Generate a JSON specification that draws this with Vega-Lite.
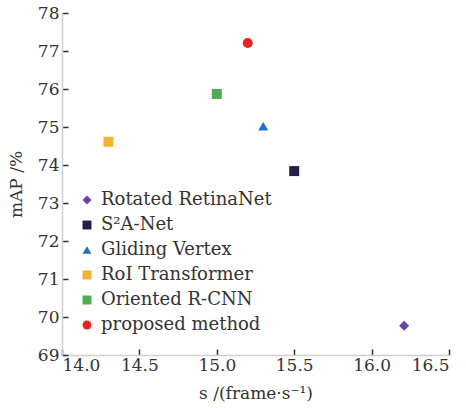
{
  "$schema": "https://vega.github.io/schema/vega-lite/v6.json",
  "autosize": "none",
  "width": 387,
  "height": 342,
  "padding": {"left": 62, "top": 13, "right": 17, "bottom": 53},
  "background": "white",
  "config": {
    "view": {"stroke": null},
    "font": "DejaVu Serif"
  },
  "data": {
    "values": [
      {"method": "Rotated RetinaNet", "speed": 16.21, "map": 69.77},
      {"method": "S²A-Net", "speed": 15.50, "map": 73.84},
      {"method": "Gliding Vertex", "speed": 15.30, "map": 75.02},
      {"method": "RoI Transformer", "speed": 14.30, "map": 74.61},
      {"method": "Oriented R-CNN", "speed": 15.00, "map": 75.87},
      {"method": "proposed method", "speed": 15.20, "map": 77.21}
    ]
  },
  "mark": {"type": "point", "filled": true, "opacity": 1, "size": 100},
  "encoding": {
    "x": {
      "field": "speed", "type": "quantitative",
      "scale": {"domain": [14, 16.5], "nice": false, "zero": false},
      "axis": {
        "title": "s /(frame·s⁻¹)",
        "values": [14, 14.5, 15, 15.5, 16, 16.5],
        "format": ".1f",
        "grid": false,
        "domainColor": "#d0d0d0",
        "domainWidth": 1.5,
        "tickColor": "#333",
        "tickSize": -6,
        "tickWidth": 1.5,
        "labelFont": "DejaVu Serif",
        "labelFontSize": 17,
        "labelColor": "#333",
        "labelPadding": 8,
        "titleFont": "DejaVu Serif",
        "titleFontSize": 17,
        "titleFontWeight": "normal",
        "titleColor": "#333",
        "titlePadding": 12
      }
    },
    "y": {
      "field": "map", "type": "quantitative",
      "scale": {"domain": [69, 78], "nice": false, "zero": false},
      "axis": {
        "title": "mAP /%",
        "values": [69, 70, 71, 72, 73, 74, 75, 76, 77, 78],
        "grid": false,
        "domainColor": "#d0d0d0",
        "domainWidth": 1.5,
        "tickColor": "#333",
        "tickSize": -6,
        "tickWidth": 1.5,
        "labelFont": "DejaVu Serif",
        "labelFontSize": 17,
        "labelColor": "#333",
        "labelPadding": 9,
        "titleFont": "DejaVu Serif",
        "titleFontSize": 17,
        "titleFontWeight": "normal",
        "titleColor": "#333",
        "titlePadding": 12
      }
    },
    "color": {
      "field": "method", "type": "nominal",
      "scale": {
        "domain": ["Rotated RetinaNet", "S²A-Net", "Gliding Vertex", "RoI Transformer", "Oriented R-CNN", "proposed method"],
        "range": ["#6b3fa6", "#1f2147", "#1f6fc2", "#f5b232", "#4cae50", "#e8231f"]
      },
      "legend": {
        "title": null,
        "orient": "none",
        "legendX": 16,
        "legendY": 178,
        "padding": 0,
        "rowPadding": 7,
        "symbolSize": 80,
        "symbolOpacity": 1,
        "labelFont": "DejaVu Serif",
        "labelFontSize": 18,
        "labelColor": "#333",
        "labelOffset": 5,
        "labelLimit": 400
      }
    },
    "shape": {
      "field": "method", "type": "nominal",
      "scale": {
        "domain": ["Rotated RetinaNet", "S²A-Net", "Gliding Vertex", "RoI Transformer", "Oriented R-CNN", "proposed method"],
        "range": ["diamond", "square", "triangle-up", "square", "square", "circle"]
      }
    }
  }
}
